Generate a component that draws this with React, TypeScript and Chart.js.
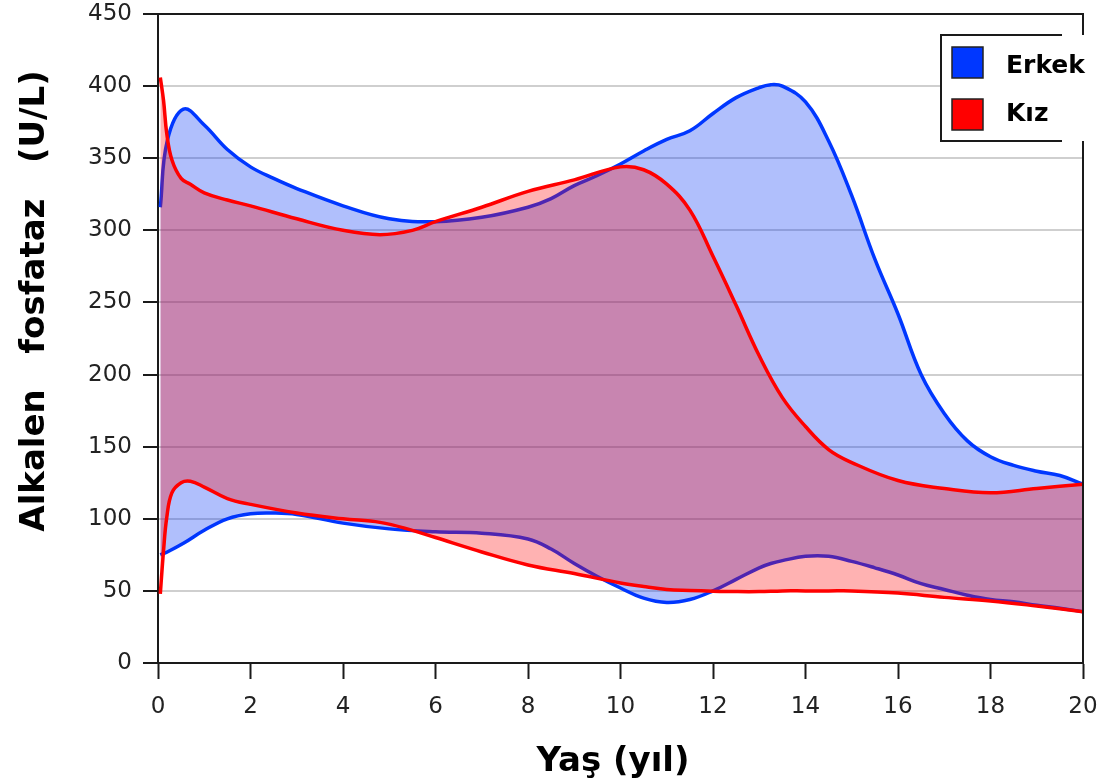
import React, { useEffect, useRef } from "react";
import { Chart, registerables } from "chart.js";

Chart.register(...registerables);

// ---- Data ----
const seriesLabels = ["Erkek", "Kız"];
const xAxisTitle = "Yaş (yıl)";
const yAxisTitle = "Alkalen   fosfataz   (U/L)";

const erkekX = [0.05, 0.2, 0.55, 1, 1.5, 2, 2.5, 3, 4, 5, 6, 7, 8, 8.5, 9, 9.5, 10, 10.5, 11, 11.5, 12, 12.5, 13, 13.25, 13.5, 14, 14.5, 15, 15.5, 16, 16.5, 17, 17.5, 18, 18.5, 19, 19.5, 20];
const erkekUpper = [316, 362, 384, 373, 356, 344, 336, 329, 317, 308, 306, 309, 316, 322, 331, 338, 346, 355, 363, 369, 381, 392, 399, 401, 400, 389, 362, 324, 280, 242, 200, 173, 154, 143, 137, 133, 130, 124];
const erkekLower = [75, 77, 83, 92, 100, 103.5, 104, 103, 97, 93, 91, 90, 86, 79, 69, 60, 52, 45, 42, 44, 50, 58, 66, 69, 71, 74, 74, 70.5, 66, 61, 55, 51, 47, 44, 42.5, 40, 38, 35.6];

const kizX = [0.05, 0.12, 0.19, 0.3, 0.5, 0.7, 1, 1.5, 2, 3, 4, 4.8, 5.5, 6, 7, 8, 9, 10, 10.5, 11, 11.5, 12, 12.5, 13, 13.5, 14, 14.5, 15, 16, 17, 18, 19, 20];
const kizUpper = [406, 390, 367, 349, 336, 332, 326, 321, 317, 308, 300, 297, 300, 306, 316, 327, 335, 344, 342, 332, 314, 282, 248, 213, 184, 164, 148, 139, 126.5, 121, 118, 121, 124];
const kizLower = [48, 78, 101, 118, 125, 126, 122, 114, 110, 104, 100, 97.5, 92, 87, 77, 68, 62, 55.5, 53, 51, 50.3, 49.8, 49.5, 49.5, 50, 50, 50, 50, 48.5, 45.5, 43, 39.5, 35.6];

const toPoints = (xs: number[], ys: number[]) => xs.map((x, i) => ({ x, y: ys[i] }));

const BLUE = "#0037ff";
const RED = "#ff0000";
const BLUE_FILL = "rgba(0, 50, 245, 0.31)";
const RED_FILL = "rgba(255, 0, 0, 0.3)";
const AXIS = "#1a1a1a";
const FONT = '"DejaVu Sans", Verdana, sans-serif';

const decorPlugin = {
  id: "decor",
  afterDraw(chart: any) {
    const { ctx, chartArea } = chart;
    const { left, right, top, bottom } = chartArea;
    ctx.save();
    // top and right border
    ctx.strokeStyle = AXIS;
    ctx.lineWidth = 2;
    ctx.beginPath();
    ctx.moveTo(left, top);
    ctx.lineTo(right, top);
    ctx.lineTo(right, bottom);
    ctx.stroke();

    // legend box
    const lx = 941, ly = 35, lh = 106;
    ctx.fillStyle = "#ffffff";
    ctx.fillRect(lx, ly, right + 2 - lx, lh);
    ctx.beginPath();
    ctx.moveTo(1062, ly);
    ctx.lineTo(lx, ly);
    ctx.lineTo(lx, ly + lh);
    ctx.lineTo(1062, ly + lh);
    ctx.stroke();
    const colors = [BLUE, RED];
    seriesLabels.forEach((lab, i) => {
      const sy = 47 + i * 52;
      ctx.fillStyle = colors[i];
      ctx.fillRect(952, sy, 31, 31);
      ctx.lineWidth = 1.5;
      ctx.strokeStyle = "#222";
      ctx.strokeRect(952, sy, 31, 31);
      ctx.fillStyle = "#000";
      ctx.font = `bold 25px ${FONT}`;
      ctx.textAlign = "left";
      ctx.textBaseline = "alphabetic";
      ctx.fillText(lab, 1006, 73 + i * 48);
    });

    // axis titles
    ctx.fillStyle = "#000";
    ctx.font = `bold 34px ${FONT}`;
    ctx.textAlign = "center";
    ctx.textBaseline = "alphabetic";
    ctx.fillText(xAxisTitle, 613, 771);
    ctx.textBaseline = "middle";
    ctx.translate(35, 301);
    ctx.rotate(-Math.PI / 2);
    ctx.fillText(yAxisTitle, 0, 0);
    ctx.restore();
  },
};

const zeroPad = (scale: any) => {
  scale.paddingTop = 0;
  scale.paddingBottom = 0;
  scale.paddingLeft = 0;
  scale.paddingRight = 0;
};

export default function App() {
  const ref = useRef<HTMLCanvasElement>(null);
  useEffect(() => {
    const canvas = ref.current;
    if (!canvas) return;
    const lineOpts = { borderWidth: 3.5, tension: 0.4, pointRadius: 0 };
    const chart = new Chart(canvas, {
      type: "line",
      data: {
        datasets: [
          {
            label: "Kız",
            data: toPoints(kizX, kizUpper),
            borderColor: RED,
            backgroundColor: RED_FILL,
            fill: "+1",
            ...lineOpts,
          },
          {
            label: "Kız alt",
            data: toPoints(kizX, kizLower),
            borderColor: RED,
            backgroundColor: RED_FILL,
            fill: false,
            ...lineOpts,
          },
          {
            label: "Erkek",
            data: toPoints(erkekX, erkekUpper),
            borderColor: BLUE,
            backgroundColor: BLUE_FILL,
            fill: "+1",
            ...lineOpts,
          },
          {
            label: "Erkek alt",
            data: toPoints(erkekX, erkekLower),
            borderColor: BLUE,
            backgroundColor: BLUE_FILL,
            fill: false,
            ...lineOpts,
          },
        ],
      },
      options: {
        responsive: false,
        animation: false,
        devicePixelRatio: 1,
        layout: { padding: { top: 14, right: 16, left: 0, bottom: 0 } },
        elements: {
          point: { radius: 0, hoverRadius: 0 },
        },
        plugins: {
          legend: { display: false },
          tooltip: { enabled: false },
          title: { display: false },
        },
        scales: {
          x: {
            type: "linear",
            min: 0,
            max: 20,
            afterFit(scale: any) {
              scale.height = 121;
              zeroPad(scale);
            },
            ticks: {
              stepSize: 2,
              color: "#222",
              font: { family: FONT, size: 23 },
              padding: 14,
              maxRotation: 0,
            },
            grid: {
              drawOnChartArea: false,
              drawTicks: true,
              tickLength: 16,
              tickColor: AXIS,
              tickWidth: 2,
            },
            border: { display: true, color: AXIS, width: 2 },
          },
          y: {
            type: "linear",
            min: 0,
            max: 450,
            afterFit(scale: any) {
              scale.width = 158;
              zeroPad(scale);
            },
            ticks: {
              stepSize: 50,
              color: "#222",
              font: { family: FONT, size: 23 },
              padding: 11,
            },
            grid: {
              color: "#cfcfcf",
              lineWidth: 2,
              drawTicks: true,
              tickLength: 15,
              tickColor: AXIS,
              tickWidth: 2,
            },
            border: { display: true, color: AXIS, width: 2 },
          },
        },
      },
      plugins: [decorPlugin],
    });
    return () => chart.destroy();
  }, []);
  return (
    <div style={{ position: "absolute", left: 0, top: 0, width: 1099, height: 784, background: "#fff" }}>
      <canvas ref={ref} width={1099} height={784} style={{ width: 1099, height: 784, display: "block" }} />
    </div>
  );
}
